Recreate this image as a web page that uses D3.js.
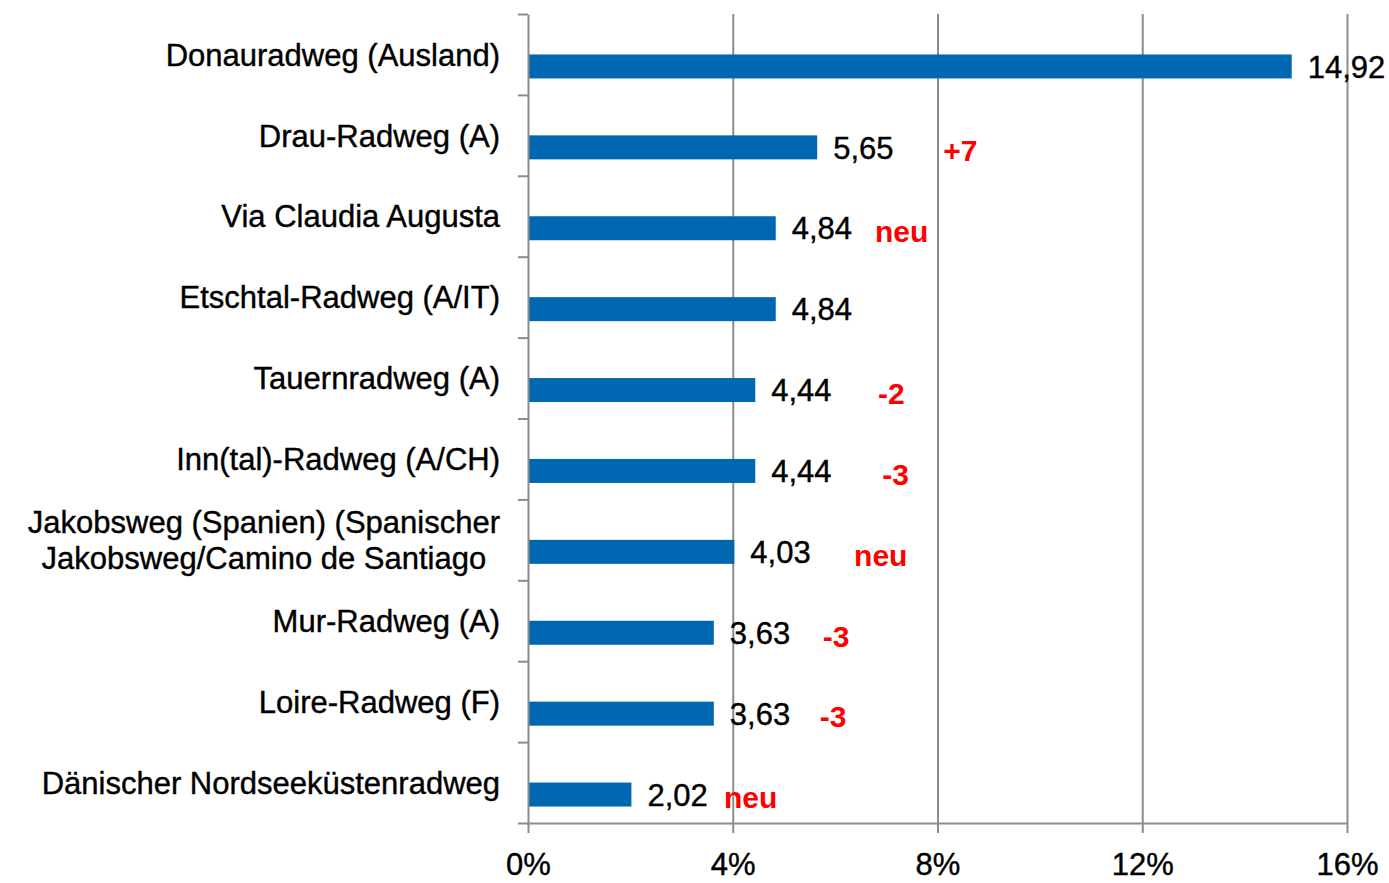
<!DOCTYPE html>
<html>
<head>
<meta charset="utf-8">
<script src="https://cdn.jsdelivr.net/npm/d3@7"></script>
<style>
  body { margin: 0; background: #fff; }
  svg text { font-family: "Liberation Sans", Arial, sans-serif; }
  .axis path, .axis line { stroke: #8c8c8c; stroke-width: 2px; }
  .grid line { stroke: #8c8c8c; stroke-width: 2px; }
  .grid path { display: none; }
  .dark { stroke: #000; stroke-width: 0.4px; }
</style>
</head>
<body>
<div id="chart-area"></div>
<script>
// Chart data
var routes = [
  ["Donauradweg (Ausland)"],
  ["Drau-Radweg (A)"],
  ["Via Claudia Augusta"],
  ["Etschtal-Radweg (A/IT)"],
  ["Tauernradweg (A)"],
  ["Inn(tal)-Radweg (A/CH)"],
  ["Jakobsweg (Spanien) (Spanischer", "Jakobsweg/Camino de Santiago"],
  ["Mur-Radweg (A)"],
  ["Loire-Radweg (F)"],
  ["Dänischer Nordseeküstenradweg"]
];
var shares = [14.92, 5.65, 4.84, 4.84, 4.44, 4.44, 4.03, 3.63, 3.63, 2.02];
var changes = ["", "+7", "neu", "", "-2", "-3", "neu", "-3", "-3", "neu"];
// where the red change note starts, in % units of the x axis
var changeAt = [null, 8.11, 6.78, null, 6.84, 6.92, 6.37, 5.76, 5.70, 3.83];
var xTicks = [0, 4, 8, 12, 16];

var width = 1389, height = 883;
var margin = { left: 528, right: 42, top: 14, bottom: 60 };
var plotW = width - margin.left - margin.right;
var plotH = height - margin.top - margin.bottom;

var svg = d3.select("#chart-area")
  .append("svg")
    .attr("width", width)
    .attr("height", height)
  .append("g")
    .attr("transform", "translate(" + margin.left + "," + margin.top + ")");

////////// Scales //////////
var x = d3.scaleLinear().domain([0, 16]).range([0, plotW]);
var y = d3.scaleBand()
  .domain(d3.range(routes.length))
  .range([0, plotH])
  .padding(0);
var bounds = d3.scaleLinear().domain([0, routes.length]).range([0, plotH]);

// vertical gridlines
svg.append("g")
  .attr("class", "grid")
  .call(d3.axisBottom(x).tickValues(xTicks.slice(1)).tickSize(plotH).tickFormat(""));

// bars
var barH = 24;
svg.selectAll("rect.bar")
  .data(shares)
  .enter()
  .append("rect")
    .attr("class", "bar")
    .attr("x", 0)
    .attr("y", function(d, i) { return y(i) + y.bandwidth() / 2; })
    .attr("width", function(d) { return x(d); })
    .attr("height", barH)
    .attr("fill", "#0067b1");

// left axis with ticks at category boundaries
svg.append("g")
  .attr("class", "axis")
  .call(d3.axisLeft(bounds).tickValues(d3.range(routes.length + 1)).tickSize(10).tickSizeOuter(0).tickFormat(""));

// bottom axis
var xAxis = svg.append("g")
  .attr("class", "axis")
  .attr("transform", "translate(0," + plotH + ")")
  .call(d3.axisBottom(x).tickValues(xTicks).tickSize(10).tickSizeOuter(0)
    .tickFormat(function(d) { return d + "%"; }));
xAxis.selectAll("text")
  .attr("class", "dark")
  .attr("y", 30)
  .attr("dy", "0.71em")
  .attr("fill", "#000")
  .attr("font-size", "31px");

// value labels
svg.selectAll("text.value")
  .data(shares)
  .enter()
  .append("text")
    .attr("class", "value dark")
    .attr("x", function(d) { return x(d) + 16; })
    .attr("y", function(d, i) { return y(i) + y.bandwidth() / 2 + barH / 2; })
    .attr("dy", "0.36em")
    .attr("font-size", "31px")
    .attr("fill", "#000")
    .text(function(d) { return d.toFixed(2).replace(".", ","); });

// red change notes
var notes = changes.map(function(c, i) { return { text: c, at: changeAt[i], row: i }; })
  .filter(function(n) { return n.text !== ""; });
svg.selectAll("text.change")
  .data(notes)
  .enter()
  .append("text")
    .attr("class", "change")
    .attr("x", function(d) { return x(d.at); })
    .attr("y", function(d) { return y(d.row) + y.bandwidth() / 2 + barH / 2 + 3; })
    .attr("dy", "0.36em")
    .attr("font-size", "30px")
    .attr("font-weight", "bold")
    .attr("fill", "#ff0000")
    .text(function(d) { return d.text; });

// category labels (multi-line ones are centred within their block)
var lineH = 36;
routes.forEach(function(lines, i) {
  var g = svg.append("text")
    .attr("class", "dark")
    .attr("font-size", "31px")
    .attr("fill", "#000");
  var cy = y(i) + y.bandwidth() / 2 - (lines.length - 1) * lineH / 2;
  var spans = lines.map(function(l, k) {
    return g.append("tspan").attr("y", cy + k * lineH).attr("dy", "0.36em").text(l);
  });
  if (lines.length === 1) {
    g.attr("text-anchor", "end");
    spans[0].attr("x", -28);
  } else {
    var maxW = d3.max(spans, function(s) { return s.node().getComputedTextLength(); });
    g.attr("text-anchor", "middle");
    spans.forEach(function(s) { s.attr("x", -28 - maxW / 2); });
  }
});
</script>
</body>
</html>
